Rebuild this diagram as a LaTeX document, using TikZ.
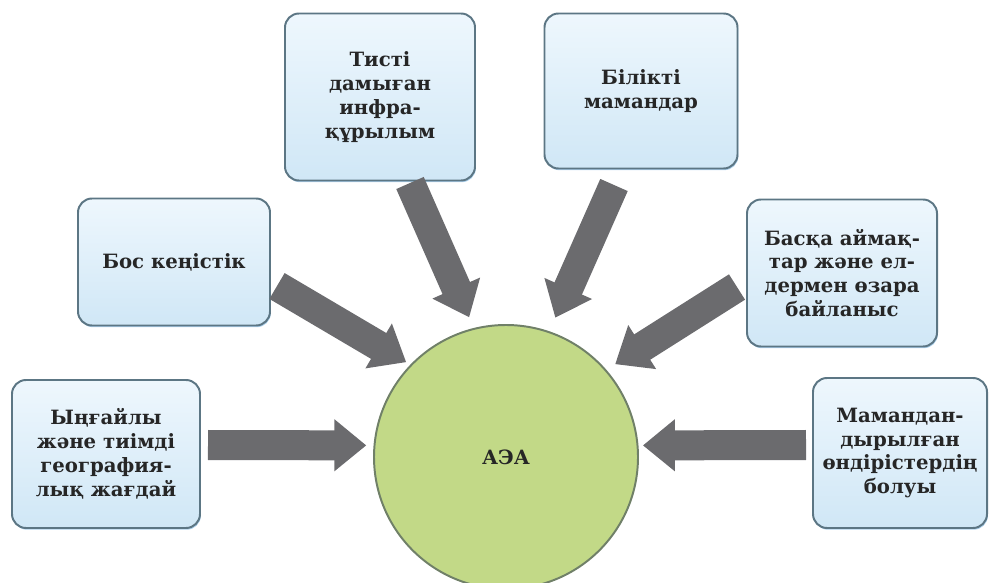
\documentclass[tikz,border=0pt]{standalone}
\usepackage{fontspec}
\setmainfont{DejaVu Serif}
\usetikzlibrary{arrows.meta,shadows}
\definecolor{boxline}{RGB}{92,118,132}
\definecolor{boxtop}{RGB}{238,247,253}
\definecolor{boxbot}{RGB}{208,231,246}
\definecolor{hubfill}{RGB}{194,217,135}
\definecolor{hubline}{RGB}{112,128,104}
\definecolor{arrowgray}{RGB}{107,107,110}
\tikzset{
    infobox/.style={rectangle, rounded corners=0.35cm, draw=boxline, line width=1.4pt, top color=boxtop, bottom color=boxbot, align=center, text=black!85, font=\fontsize{14}{17}\selectfont\bfseries, drop shadow={shadow xshift=0.6pt, shadow yshift=-1.2pt, fill=cyan!60!blue, opacity=0.35}},
    hub/.style={circle, draw=hubline, line width=1.4pt, fill=hubfill, minimum size=6.6cm, inner sep=0pt, text=black!85, font=\fontsize{14}{17}\selectfont\bfseries},
    bigarrow/.style={draw=arrowgray, line width=0.75cm, -{Triangle[length=0.8cm, width=1.25cm]}}
}

\begin{document}
\begin{tikzpicture}
    \useasboundingbox (0,0) rectangle (24.95,14.55);

    \node[hub] (aea) at (12.65,3.125) {АЭА};

    \node[infobox, minimum width=4.75cm, minimum height=4.175cm] (infra) at (9.5,12.125) {Тисті\\дамыған\\инфра-\\құрылым};
    \node[infobox, minimum width=4.825cm, minimum height=3.875cm] (staff) at (16.025,12.275) {Білікті\\мамандар};
    \node[infobox, minimum width=4.8cm, minimum height=3.175cm] (space) at (4.35,8.0) {Бос кеңістік};
    \node[infobox, minimum width=4.75cm, minimum height=3.675cm] (links) at (21.05,7.725) {Басқа аймақ-\\тар және ел-\\дермен өзара\\байланыс};
    \node[infobox, minimum width=4.7cm, minimum height=3.7cm] (geo) at (2.65,3.2) {Ыңғайлы\\және тиімді\\география-\\лық жағдай};
    \node[infobox, minimum width=4.35cm, minimum height=3.75cm] (prod) at (22.5,3.225) {Мамандан-\\дырылған\\өндірістердің\\болуы};

    \coordinate (s-infra) at (10.25,9.975);
    \coordinate (s-staff) at (15.35,9.925);
    \coordinate (s-space) at (6.925,7.4);
    \coordinate (s-links) at (18.425,7.375);
    \coordinate (s-geo) at (5.2,3.425);
    \coordinate (s-prod) at (20.15,3.425);

    \draw[bigarrow, shorten >=0.29cm] (s-infra) -- (aea.104.5);
    \draw[bigarrow, shorten >=0.37cm] (s-staff) -- (aea.71.3);
    \draw[bigarrow, shorten >=0.12cm] (s-space) -- (aea.136);
    \draw[bigarrow, shorten >=0.26cm] (s-links) -- (aea.41.9);
    \draw[bigarrow, shorten >=0.18cm] (s-geo) -- (aea.175);
    \draw[bigarrow, shorten >=0.11cm] (s-prod) -- (aea.5);
\end{tikzpicture}
\end{document}
